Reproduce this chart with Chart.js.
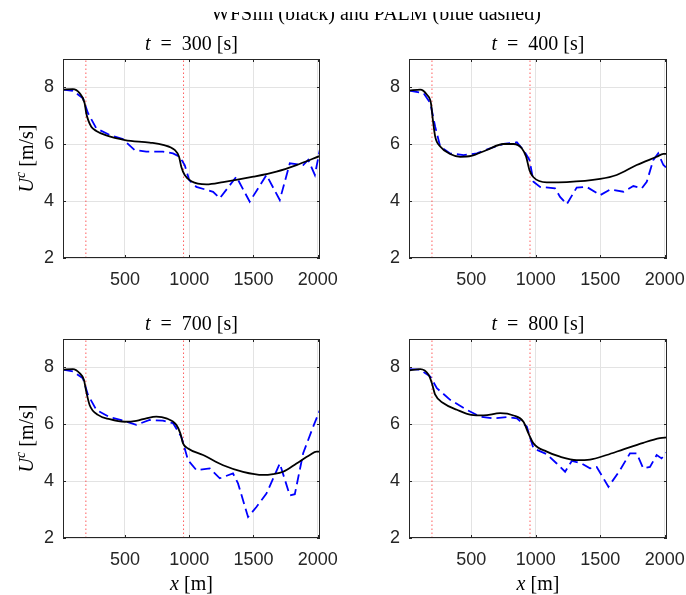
<!DOCTYPE html>
<html>
<head>
<meta charset="utf-8">
<script src="https://cdn.jsdelivr.net/npm/chart.js@4.4.1/dist/chart.umd.min.js"></script>
<style>
  html, body { margin: 0; padding: 0; background: #fff; }
  #fig { position: relative; width: 686px; height: 595px; overflow: hidden; background: #fff; }
  #fig canvas { position: absolute; left: 0; top: 0; }
</style>
</head>
<body>
<div id="fig">
  <canvas id="c300" width="686" height="595"></canvas>
  <canvas id="c400" width="686" height="595"></canvas>
  <canvas id="c700" width="686" height="595"></canvas>
  <canvas id="c800" width="686" height="595"></canvas>
</div>
<script>
// axis setup
var xMin = 18, xMax = 2018;
var yMin = 2, yMax = 9;
var xTicks = [500, 1000, 1500, 2000];
var yTicks = [2, 4, 6, 8];
var turbineX = [196, 956];

var superTitle = 'WFSim (black) and PALM (blue dashed)';

// t = 300 s
var wfsimX300 = [18, 95, 147, 186, 199, 215, 238, 277, 355, 500, 692, 796, 887, 921, 939, 965, 1017, 1134, 1264, 1500, 1679, 1835, 2018];
var wfsimU300 = [7.92, 7.94, 7.8, 7.45, 7.09, 6.84, 6.62, 6.47, 6.31, 6.15, 6.06, 5.98, 5.8, 5.56, 5.2, 4.92, 4.7, 4.59, 4.67, 4.86, 5.04, 5.27, 5.59];
var palmX300 = [18, 95, 173, 212, 277, 381, 484, 575, 666, 796, 874, 926, 965, 1000, 1056, 1186, 1238, 1367, 1471, 1601, 1705, 1783, 1887, 1926, 1978, 2018];
var palmU300 = [7.92, 7.88, 7.62, 7.1, 6.56, 6.33, 6.18, 5.8, 5.74, 5.74, 5.68, 5.56, 5.27, 4.74, 4.5, 4.33, 4.1, 4.86, 3.98, 4.92, 4.04, 5.33, 5.27, 5.45, 4.92, 5.84];

// t = 400 s
var wfsimX400 = [20, 105, 157, 188, 203, 221, 260, 337, 415, 500, 621, 750, 828, 892, 926, 952, 983, 1086, 1241, 1500, 1628, 1783, 1938, 1990, 2020];
var wfsimU400 = [7.89, 7.92, 7.74, 7.45, 6.86, 6.27, 5.92, 5.66, 5.56, 5.59, 5.8, 6.01, 6.01, 5.86, 5.56, 5.09, 4.84, 4.66, 4.67, 4.78, 4.92, 5.27, 5.56, 5.66, 5.66];
var palmX400 = [20, 131, 183, 221, 260, 337, 441, 544, 647, 750, 854, 905, 952, 983, 1034, 1150, 1189, 1241, 1318, 1396, 1500, 1577, 1680, 1757, 1822, 1861, 1912, 1950, 1990, 2020];
var palmU400 = [7.89, 7.8, 7.45, 6.62, 5.92, 5.68, 5.62, 5.68, 5.86, 6.01, 6.07, 5.8, 5.45, 4.68, 4.5, 4.45, 4.15, 3.89, 4.48, 4.5, 4.21, 4.41, 4.33, 4.53, 4.45, 4.68, 5.45, 5.68, 5.27, 5.15];

// t = 700 s
var wfsimX700 = [18, 95, 147, 181, 199, 225, 290, 381, 500, 588, 666, 744, 822, 900, 931, 952, 991, 1108, 1264, 1419, 1575, 1653, 1731, 1835, 1939, 1991, 2018];
var wfsimU700 = [7.92, 7.94, 7.8, 7.56, 7.15, 6.68, 6.33, 6.18, 6.09, 6.12, 6.21, 6.27, 6.21, 5.98, 5.68, 5.33, 5.15, 4.92, 4.56, 4.33, 4.22, 4.25, 4.33, 4.62, 4.92, 5.04, 5.04];
var palmX700 = [18, 95, 173, 212, 277, 381, 484, 588, 692, 796, 874, 939, 991, 1056, 1160, 1238, 1341, 1380, 1458, 1523, 1601, 1705, 1783, 1822, 1887, 1965, 2018];
var palmU700 = [7.92, 7.86, 7.62, 7.04, 6.51, 6.25, 6.13, 5.98, 6.15, 6.13, 6.04, 5.56, 4.74, 4.39, 4.45, 4.1, 4.27, 3.92, 2.74, 3.09, 3.56, 4.62, 3.5, 3.54, 4.98, 5.92, 6.51];

// t = 800 s
var wfsimX800 = [20, 105, 170, 195, 221, 286, 389, 500, 596, 725, 828, 905, 944, 983, 1086, 1189, 1318, 1421, 1550, 1680, 1834, 1963, 2020];
var wfsimU800 = [7.89, 7.94, 7.74, 7.45, 7.04, 6.74, 6.51, 6.33, 6.31, 6.39, 6.31, 6.09, 5.68, 5.33, 5.04, 4.86, 4.74, 4.76, 4.92, 5.12, 5.35, 5.51, 5.54];
var palmX800 = [20, 105, 183, 234, 337, 466, 570, 673, 776, 854, 931, 983, 1086, 1163, 1228, 1280, 1357, 1421, 1473, 1564, 1654, 1731, 1783, 1834, 1886, 1938, 1976, 2020];
var palmU800 = [7.94, 7.92, 7.68, 7.27, 6.86, 6.51, 6.27, 6.21, 6.25, 6.21, 5.92, 5.15, 4.95, 4.62, 4.33, 4.71, 4.62, 4.45, 4.5, 3.8, 4.39, 4.98, 4.98, 4.45, 4.5, 4.92, 4.8, 5.04];

var W = 686, H = 595;
var AXIS_COLOR = '#262626';
var ROMAN = '20px "Liberation Serif"';
var ITALIC = 'italic 20px "Liberation Serif"';
var SUP = 'italic 14px "Liberation Serif"';

function pts(xs, ys) {
    var out = [];
    for (var i = 0; i < xs.length; i++) out.push({ x: xs[i], y: ys[i] });
    return out;
}

function drawRuns(ctx, runs, x, y) {
    var total = 0;
    runs.forEach(function (r) { ctx.font = r.font; r.w = ctx.measureText(r.text).width; total += r.w; });
    var cx = x - total / 2;
    runs.forEach(function (r) {
        ctx.font = r.font;
        ctx.fillText(r.text, cx, y + (r.dy || 0));
        cx += r.w;
    });
}

// box, inner ticks, titles and axis labels
var decorPlugin = {
    id: 'decor',
    afterDraw: function (chart) {
        var o = chart.options.plugins.decor;
        var ctx = chart.ctx;
        var a = chart.chartArea;
        var l = Math.round(a.left), r = Math.round(a.right), t = Math.round(a.top), b = Math.round(a.bottom);
        var xs = chart.scales.x, ys = chart.scales.y;

        ctx.save();
        ctx.strokeStyle = AXIS_COLOR;
        ctx.lineWidth = 1;
        ctx.strokeRect(l + 0.5, t + 0.5, r - l - 1, b - t - 1);
        ctx.beginPath();
        xTicks.forEach(function (v) {
            var px = Math.round(xs.getPixelForValue(v)) + 0.5;
            ctx.moveTo(px, b); ctx.lineTo(px, b - 3);
            ctx.moveTo(px, t); ctx.lineTo(px, t + 3);
        });
        yTicks.forEach(function (v) {
            var py = Math.round(ys.getPixelForValue(v)) + 0.5;
            ctx.moveTo(l, py); ctx.lineTo(l + 3, py);
            ctx.moveTo(r, py); ctx.lineTo(r - 3, py);
        });
        ctx.stroke();

        ctx.fillStyle = '#000';
        ctx.textBaseline = 'alphabetic';
        var mid = (a.left + a.right) / 2;
        drawRuns(ctx, [
            { text: 't', font: ITALIC },
            { text: '\u2002=\u2002', font: ROMAN },
            { text: o.time + ' [s]', font: ROMAN }
        ], mid, t - 9);

        if (o.yLabel) {
            ctx.save();
            ctx.translate(33, (a.top + a.bottom) / 2);
            ctx.rotate(-Math.PI / 2);
            drawRuns(ctx, [
                { text: 'U', font: ITALIC },
                { text: 'c', font: SUP, dy: -8 },
                { text: ' [m/s]', font: ROMAN }
            ], 0, 0);
            ctx.restore();
        }
        if (o.xLabel) {
            drawRuns(ctx, [
                { text: 'x', font: ITALIC },
                { text: ' [m]', font: ROMAN }
            ], mid, 590);
        }
        if (o.superTitle) {
            // only the lower part of the figure title shows in the original
            ctx.save();
            ctx.beginPath();
            ctx.rect(0, 12, W, 30);
            ctx.clip();
            ctx.font = ROMAN;
            ctx.textAlign = 'center';
            ctx.fillText(superTitle, 376, 20);
            ctx.restore();
        }
        ctx.restore();
    }
};

function makePanel(id, time, wx, wu, px, pu, box, yLabel, xLabel, sup) {
    var datasets = [
        {
            data: pts(wx, wu),
            borderColor: '#000000',
            borderWidth: 1.8,
            pointRadius: 0,
            cubicInterpolationMode: 'monotone',
            fill: false
        },
        {
            data: pts(px, pu),
            borderColor: '#0000ff',
            borderWidth: 1.8,
            borderDash: [10, 5],
            pointRadius: 0,
            tension: 0,
            fill: false
        }
    ];
    turbineX.forEach(function (tx) {
        datasets.push({
            data: pts([tx, tx], [yMin, yMax]),
            borderColor: 'rgba(255, 40, 40, 0.75)',
            borderWidth: 1,
            borderDash: [1.5, 2.5],
            pointRadius: 0,
            fill: false
        });
    });

    var ctx = document.getElementById(id).getContext('2d');
    return new Chart(ctx, {
        type: 'line',
        data: { datasets: datasets },
        plugins: [decorPlugin],
        options: {
            responsive: false,
            animation: false,
            devicePixelRatio: 1,
            layout: {
                padding: {
                    left: box.left - 50,
                    right: W - box.right,
                    top: box.top,
                    bottom: H - box.bottom - 40
                }
            },
            plugins: {
                legend: { display: false },
                tooltip: { enabled: false },
                decor: { time: time, yLabel: yLabel, xLabel: xLabel, superTitle: sup }
            },
            scales: {
                x: {
                    type: 'linear',
                    min: xMin,
                    max: xMax,
                    afterBuildTicks: function (s) { s.ticks = xTicks.map(function (v) { return { value: v }; }); },
                    afterFit: function (s) { s.height = 40; s.paddingLeft = 0; s.paddingRight = 0; },
                    grid: { color: '#e3e3e3', drawTicks: false },
                    border: { display: false },
                    ticks: {
                        color: AXIS_COLOR,
                        padding: 11,
                        maxRotation: 0,
                        font: { family: 'Liberation Sans', size: 18 },
                        callback: function (v) { return String(v); }
                    }
                },
                y: {
                    type: 'linear',
                    min: yMin,
                    max: yMax,
                    afterBuildTicks: function (s) { s.ticks = yTicks.map(function (v) { return { value: v }; }); },
                    afterFit: function (s) { s.width = 50; s.paddingTop = 0; s.paddingBottom = 0; },
                    grid: { color: '#e3e3e3', drawTicks: false },
                    border: { display: false },
                    ticks: {
                        color: AXIS_COLOR,
                        padding: 9,
                        font: { family: 'Liberation Sans', size: 18 },
                        callback: function (v) { return String(v); }
                    }
                }
            }
        }
    });
}

makePanel('c300', 300, wfsimX300, wfsimU300, palmX300, palmU300, { left: 63, right: 320, top: 59, bottom: 258 }, true, false, true);
makePanel('c400', 400, wfsimX400, wfsimU400, palmX400, palmU400, { left: 409, right: 667, top: 59, bottom: 258 }, false, false, false);
makePanel('c700', 700, wfsimX700, wfsimU700, palmX700, palmU700, { left: 63, right: 320, top: 339, bottom: 538 }, true, true, false);
makePanel('c800', 800, wfsimX800, wfsimU800, palmX800, palmU800, { left: 409, right: 667, top: 339, bottom: 538 }, false, true, false);
</script>
</body>
</html>
